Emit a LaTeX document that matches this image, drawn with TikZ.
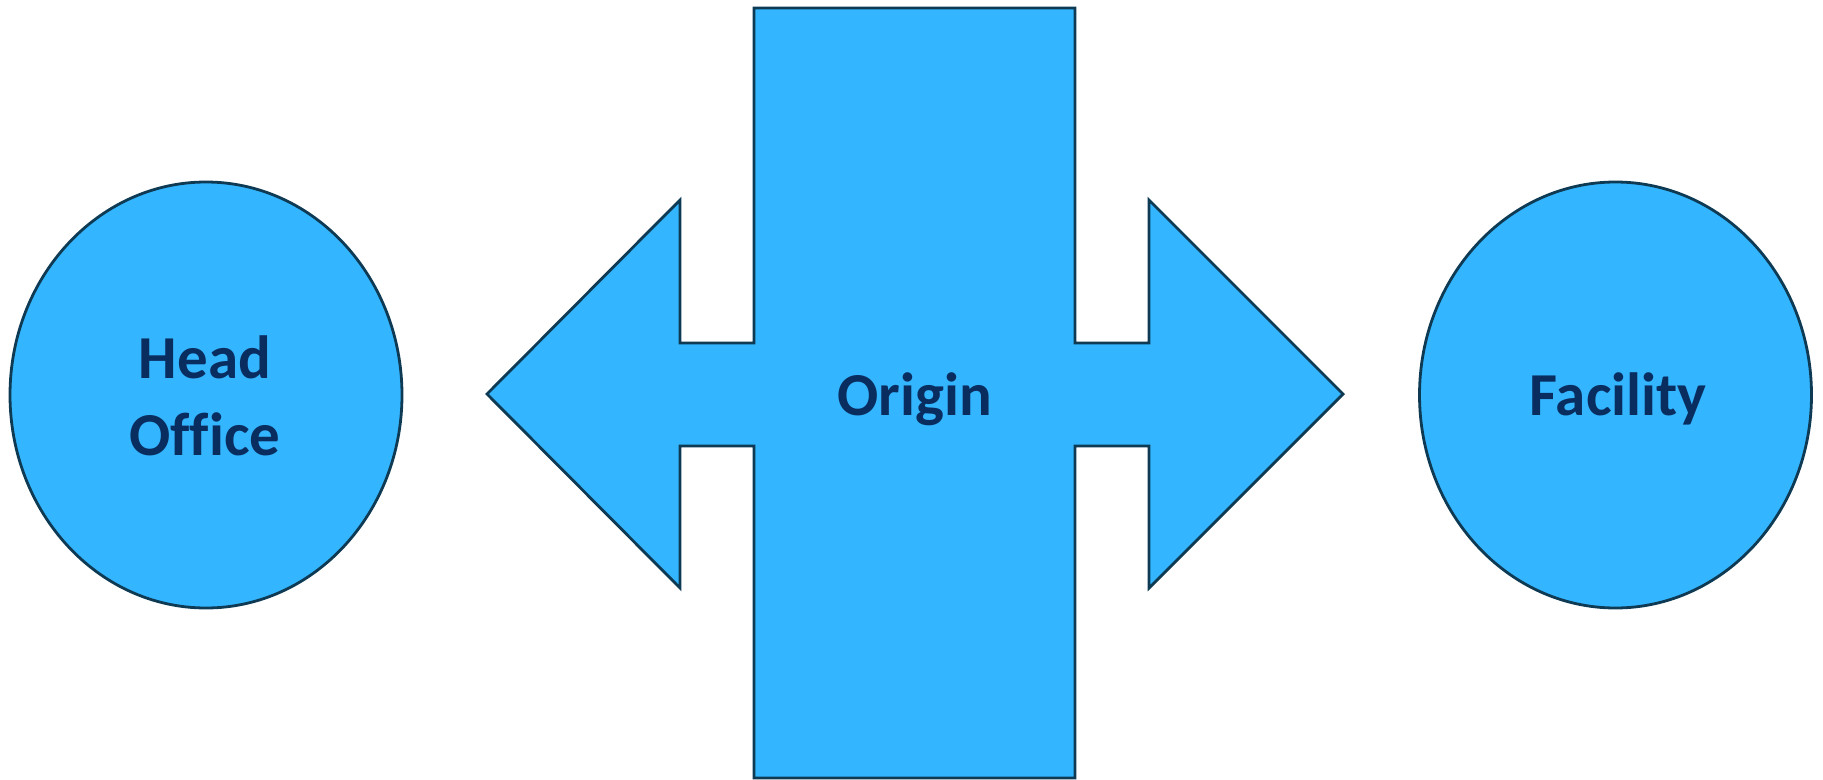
\documentclass[tikz,border=0pt]{standalone}
\usepackage{fontspec}
\setmainfont[Ligatures=NoCommon]{Carlito}
\usetikzlibrary{shapes.geometric}
\definecolor{fillblue}{HTML}{33B5FF}
\definecolor{edgecol}{HTML}{0E3A54}
\definecolor{textcol}{HTML}{0A2D60}
\tikzset{
  blob/.style={ellipse, draw=edgecol, fill=fillblue, line width=2.8pt, inner sep=0pt,
    minimum width=392pt, minimum height=426pt},
  lbl/.style={text=textcol, font=\fontsize{61}{77}\selectfont\bfseries, align=center, inner sep=0pt}
}
\begin{document}
\begin{tikzpicture}[x=1pt,y=-1pt]
\useasboundingbox (0,0) rectangle (1823,779);
\node[blob] (head) at (206,395) {};
\node[blob] (fac) at (1615.5,395) {};
\draw[draw=edgecol, fill=fillblue, line width=2.8pt, line join=miter]
  (754,8) -- (1075,8) -- (1075,343) -- (1149,343) -- (1149,200) -- (1343,394)
  -- (1149,588) -- (1149,446) -- (1075,446) -- (1075,778) -- (754,778)
  -- (754,446) -- (680,446) -- (680,588) -- (487,394) -- (680,200)
  -- (680,343) -- (754,343) -- cycle;
\node[lbl, anchor=base] (headtxt) at (205,455) {Head\\Office};
\node[lbl, anchor=base] (origin) at (915,415) {Origin};
\node[lbl, anchor=base] (factxt) at (1618,415) {Facility};
\end{tikzpicture}
\end{document}
